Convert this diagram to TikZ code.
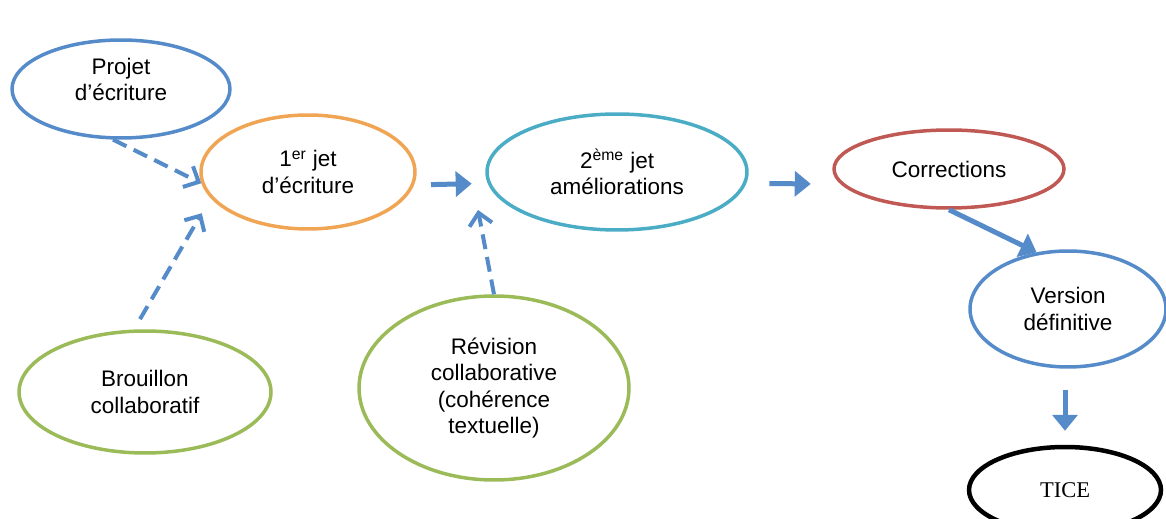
\documentclass[tikz,border=0pt]{standalone}
\usepackage{fontspec}
\setmainfont{Liberation Sans}
\newfontfamily\ticefont{Liberation Serif}
\usepackage{tikz}
\usetikzlibrary{arrows.meta,shapes.geometric}

\definecolor{bleu}{RGB}{86,139,201}
\definecolor{orange}{RGB}{240,165,85}
\definecolor{turquoise}{RGB}{75,172,198}
\definecolor{rouge}{RGB}{192,88,84}
\definecolor{vert}{RGB}{155,187,89}

\begin{document}
\begin{tikzpicture}[x=0.02cm, y=-0.02cm,
		bulle/.style={ellipse, line width=0.07cm, inner sep=0pt, align=center,
			font=\fontsize{12.8}{15}\selectfont},
		fleche/.style={line width=0.1cm, bleu, -{Triangle[length=0.32cm, width=0.5cm]}},
		pointille/.style={line width=0.08cm, bleu, dash pattern=on 0.3cm off 0.16cm,
			-{Straight Barb[length=0.24cm, width=0.46cm, line width=0.08cm]}}]
		\useasboundingbox (0,0) rectangle (1166,519);
		\clip (0,0) rectangle (1166,519);
		\node[bulle, draw=bleu, minimum width=4.36cm, minimum height=1.96cm, text depth=0.39cm] (projet) at (121,89) {Projet\\d’écriture};
		\node[bulle, draw=orange, minimum width=4.28cm, minimum height=2.28cm] (jet1) at (308,172) {1\textsuperscript{er} jet\\d’écriture};
		\node[bulle, draw=turquoise, minimum width=5.2cm, minimum height=2.32cm] (jet2) at (617,172) {2\textsuperscript{ème} jet\\améliorations};
		\node[bulle, draw=rouge, minimum width=4.6cm, minimum height=1.56cm] (corr) at (949,169) {Corrections};
		\node[bulle, draw=bleu, minimum width=3.92cm, minimum height=2.32cm] (vers) at (1068,309) {Version\\définitive};
		\node[bulle, draw=black, line width=0.09cm, minimum width=3.84cm, minimum height=1.72cm, font=\ticefont\fontsize{12.8}{15}\selectfont] (tice) at (1065,490) {TICE};
		\node[bulle, draw=vert, minimum width=5.04cm, minimum height=2.44cm] (brou) at (145,392) {Brouillon\\collaboratif};
		\node[bulle, draw=vert, minimum width=5.4cm, minimum height=3.68cm] (rev) at (494,388) {Révision\\collaborative\\(cohérence\\textuelle)};
		\coordinate (revtip) at (478,210);
		% suite des jets
		\path[fleche]
		(jet1.-7) edge[shorten <=0.34cm, shorten >=0.32cm] (jet2.185)
		(jet2.-5) edge[shorten <=0.46cm, shorten >=0.6cm] (corr.188)
		(corr.south) edge (vers.119)
		(vers.south -| tice.north) edge[shorten <=0.42cm, shorten >=0.28cm] (tice.north);
		% apports
		\path[pointille]
		(projet.-99) edge (jet1.186)
		(brou.100) edge[shorten <=0.24cm, shorten >=0.35cm] (jet1.195)
		(rev.north) edge (revtip);
\end{tikzpicture}
\end{document}
